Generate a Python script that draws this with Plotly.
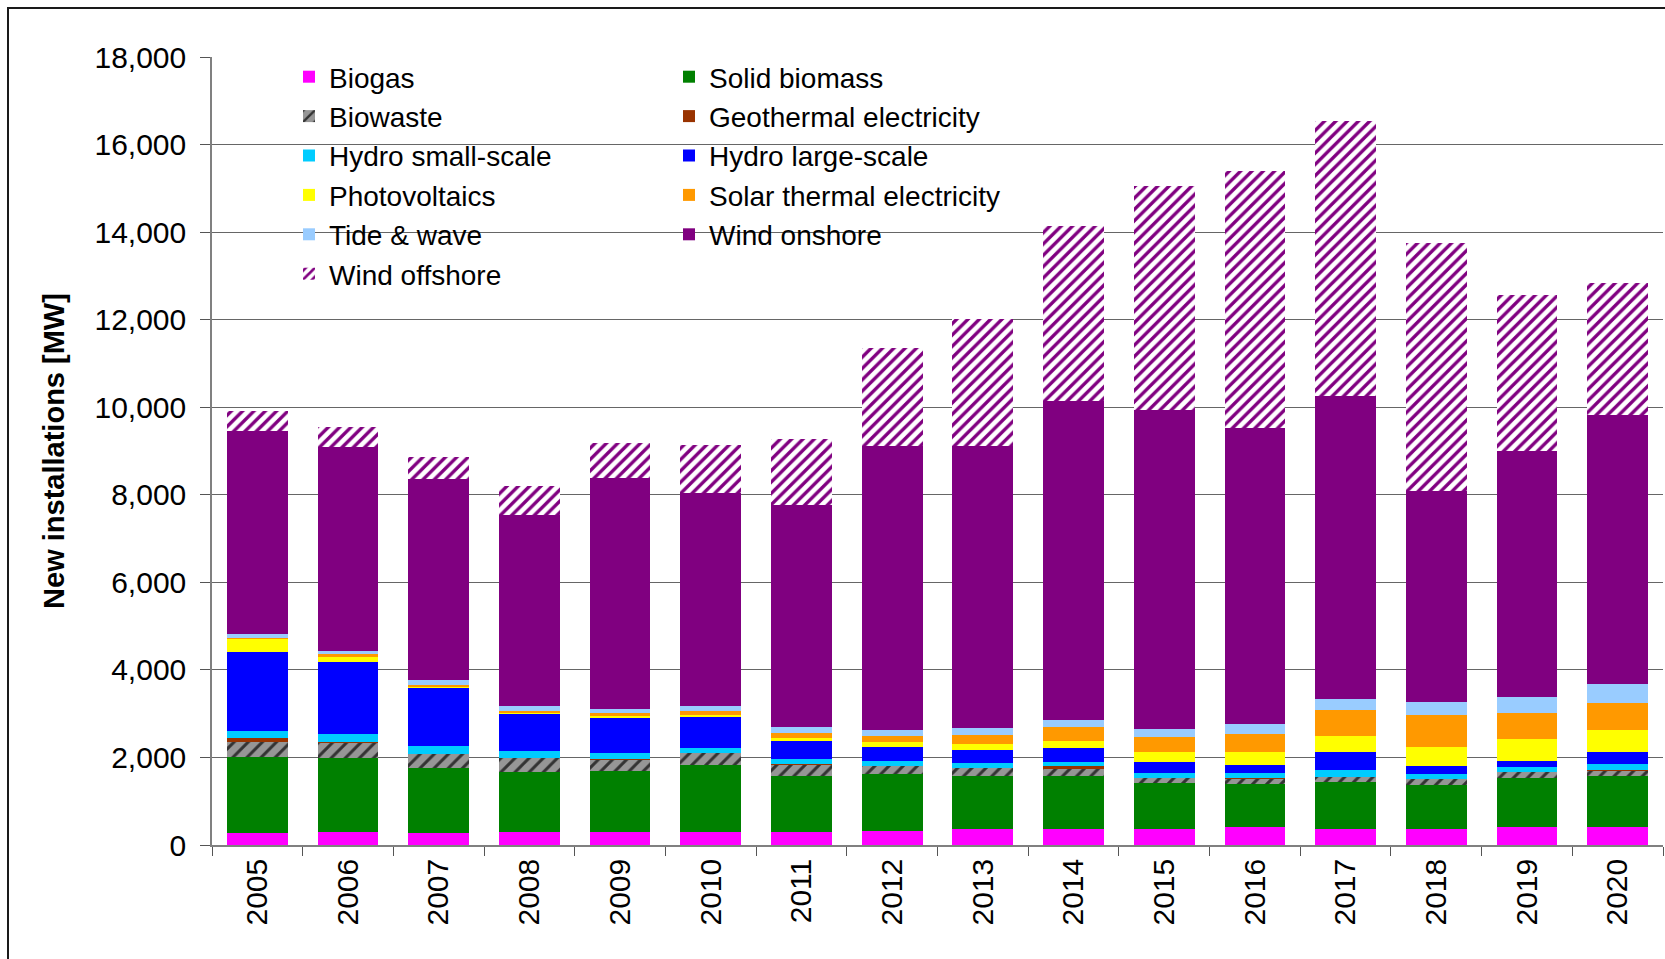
import plotly.graph_objects as go

# New renewable electricity installations per year [MW], stacked by technology
years = ["2005", "2006", "2007", "2008", "2009", "2010", "2011", "2012",
         "2013", "2014", "2015", "2016", "2017", "2018", "2019", "2020"]

biogas = [274, 305, 274, 305, 305, 305, 305, 320, 358, 373, 358, 404, 373, 358, 419, 419]
solid_biomass = [1737, 1687, 1486, 1364, 1386, 1524, 1272, 1303, 1226, 1204, 1066, 996, 1067, 1020, 1112, 1158]
biowaste = [343, 339, 320, 320, 252, 274, 258, 183, 183, 160, 107, 109, 114, 130, 138, 114]
geothermal = [92, 31, 0, 0, 15, 0, 23, 0, 0, 69, 0, 22, 0, 0, 0, 23]
hydro_small = [160, 175, 183, 160, 145, 114, 108, 114, 107, 91, 115, 115, 160, 115, 114, 137]
hydro_large = [1805, 1646, 1326, 845, 800, 709, 411, 320, 297, 320, 251, 183, 412, 183, 137, 275]
photovoltaics = [298, 114, 22, 39, 46, 45, 69, 114, 138, 160, 229, 297, 365, 434, 503, 503]
solar_thermal = [30, 76, 46, 30, 68, 92, 114, 137, 205, 320, 343, 411, 602, 731, 594, 617]
tide_wave = [84, 61, 114, 114, 92, 114, 137, 138, 160, 160, 182, 229, 244, 298, 366, 434]
wind_onshore = [4640, 4663, 4595, 4366, 5280, 4869, 5074, 6491, 6446, 7292, 7292, 6765, 6910, 4822, 5607, 6133]
wind_offshore = [457, 457, 503, 663, 800, 1097, 1509, 2233, 2903, 4000, 5120, 5875, 6302, 5669, 3581, 3033]

y_ticks = [0, 2000, 4000, 6000, 8000, 10000, 12000, 14000, 16000, 18000]

FONT = "Liberation Sans, Arial, Helvetica, sans-serif"
W, H = 1665, 959
L, R, T, B = 212, 2, 57, 114
PW, PH = W - L - R, H - T - B  # plot area size in px

# (name, values, colour, pattern, legend column)
series = [
    ("Biogas", biogas, "#FF00FF", None, "legend"),
    ("Solid biomass", solid_biomass, "#008000", None, "legend2"),
    ("Biowaste", biowaste, "#969696",
     dict(shape="/", fgcolor="#333333", bgcolor="#969696", size=10, solidity=0.3), "legend"),
    ("Geothermal electricity", geothermal, "#993300", None, "legend2"),
    ("Hydro small-scale", hydro_small, "#00CCFF", None, "legend"),
    ("Hydro large-scale", hydro_large, "#0000FF", None, "legend2"),
    ("Photovoltaics", photovoltaics, "#FFFF00", None, "legend"),
    ("Solar thermal electricity", solar_thermal, "#FF9900", None, "legend2"),
    ("Tide & wave", tide_wave, "#99CCFF", None, "legend"),
    ("Wind onshore", wind_onshore, "#800080", None, "legend2"),
    ("Wind offshore", wind_offshore, "#FFFFFF",
     dict(shape="/", fgcolor="#800080", bgcolor="#FFFFFF", size=8, solidity=0.42), "legend"),
]

fig = go.Figure()
for name, vals, color, pattern, leg in series:
    marker = dict(color=color, line=dict(width=0))
    if pattern is not None:
        marker["pattern"] = dict(fillmode="replace", **pattern)
    fig.add_trace(go.Bar(x=years, y=vals, name=name, marker=marker, legend=leg))


def paper_x(px):
    return (px - L) / PW


def paper_y(py):
    return (H - B - py) / PH


legend_common = dict(
    xanchor="left", yanchor="top",
    bgcolor="rgba(0,0,0,0)", borderwidth=0, traceorder="normal",
    font=dict(family=FONT, size=28, color="black"),
    itemclick=False, itemdoubleclick=False,
)

fig.update_layout(
    width=W, height=H,
    margin=dict(l=L, r=R, t=T, b=B, pad=0, autoexpand=False),
    paper_bgcolor="white", plot_bgcolor="white",
    barmode="stack", bargap=0.33,
    font=dict(family=FONT, size=30, color="black"),
    legend=dict(x=paper_x(289), y=paper_y(52), **legend_common),
    legend2=dict(x=paper_x(669), y=paper_y(52), **legend_common),
    xaxis=dict(
        type="category", tickangle=-90, tickson="boundaries",
        tickmode="array", tickvals=years, ticktext=years,
        ticks="outside", ticklen=9, tickwidth=1.3, tickcolor="#555555",
        showline=True, linecolor="#808080", linewidth=1.5,
        showgrid=False, tickfont=dict(family=FONT, size=30, color="black"),
        range=[-0.5, len(years) - 0.5],
    ),
    yaxis=dict(
        range=[0, 18000], tickvals=y_ticks, tickformat=",d",
        ticks="outside", ticklen=10, tickwidth=1.3, tickcolor="#555555",
        ticklabelstandoff=8,
        showline=True, linecolor="#808080", linewidth=1.5,
        showgrid=True, gridcolor="#666666", gridwidth=1.3,
        zeroline=False,
        tickfont=dict(family=FONT, size=30, color="black"),
        title=dict(text="<b>New installations [MW]</b>", standoff=21,
                   font=dict(family=FONT, size=29, color="black")),
    ),
    shapes=[
        # white panel behind the legend entries, over the gridlines
        dict(type="rect", xref="paper", yref="paper", layer="between",
             x0=paper_x(289), x1=paper_x(1051),
             y0=paper_y(298), y1=paper_y(63),
             fillcolor="white", line=dict(width=0)),
        # outer chart frame
        dict(type="rect", xref="paper", yref="paper", layer="above",
             x0=paper_x(8), x1=paper_x(1680),
             y0=paper_y(975), y1=paper_y(8),
             fillcolor="rgba(0,0,0,0)", line=dict(color="#1a1a1a", width=2)),
    ],
)

fig.write_html("out.html")
